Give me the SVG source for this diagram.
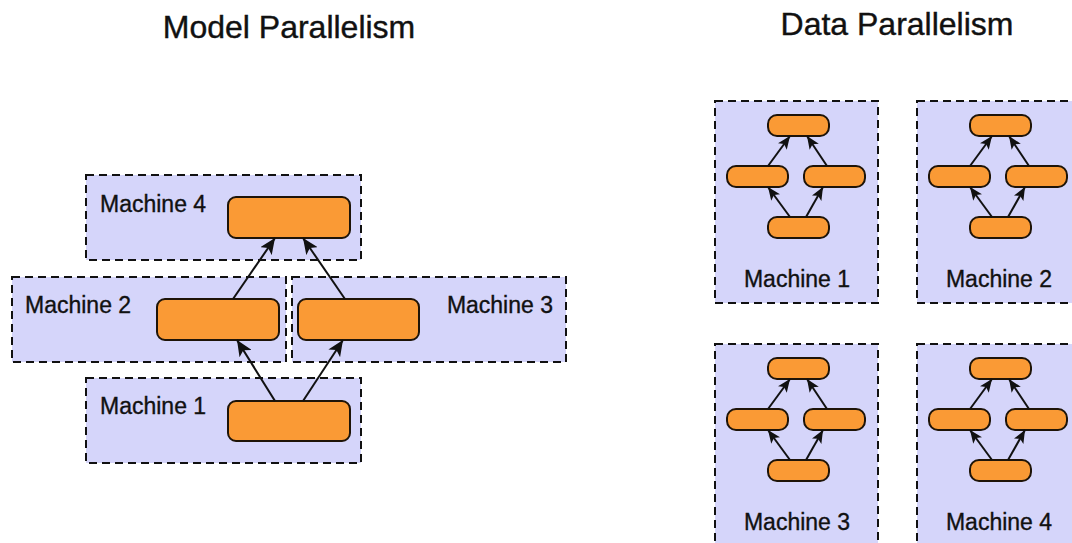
<svg xmlns="http://www.w3.org/2000/svg" width="1072" height="543" viewBox="0 0 1072 543">
<defs>
<style>
.title{font-family:"Liberation Sans",Arial,sans-serif;font-size:32px;fill:#111;stroke:#111;stroke-width:0.4;}
.lbl{font-family:"Liberation Sans",Arial,sans-serif;font-size:23px;fill:#111;stroke:#111;stroke-width:0.35;}
.box{fill:#d5d5fa;stroke:#111;stroke-width:2;stroke-dasharray:8,5;}
.node{fill:#fa9a35;stroke:#1e1408;stroke-width:2;}
.big{stroke:#111;stroke-width:2;fill:none;marker-end:url(#ahBig);}
.small{stroke:#111;stroke-width:2;fill:none;marker-end:url(#ahSmall);}
</style>
<marker id="ahBig" viewBox="0 0 16 14" refX="16" refY="7" markerWidth="16" markerHeight="14" markerUnits="userSpaceOnUse" orient="auto">
<path d="M0,0 L16,7 L0,14 L4,7 z" fill="#111"/>
</marker>
<marker id="ahSmall" viewBox="0 0 13 11" refX="13" refY="5.5" markerWidth="13" markerHeight="11" markerUnits="userSpaceOnUse" orient="auto">
<path d="M0,0 L13,5.5 L0,11 L3,5.5 z" fill="#111"/>
</marker>
</defs>
<rect width="1072" height="543" fill="#ffffff"/>
<text class="title" x="289" y="38" text-anchor="middle">Model Parallelism</text>
<text class="title" x="897" y="35" text-anchor="middle">Data Parallelism</text>

<g id="mp-machine4">
<rect class="box" x="86" y="175" width="275" height="85"/>
<text class="lbl" x="100" y="212">Machine 4</text>
<rect class="node" x="228" y="197" width="122" height="41" rx="8"/>
</g>
<g id="mp-machine2">
<rect class="box" x="12" y="277" width="274" height="85"/>
<text class="lbl" x="25" y="313">Machine 2</text>
<rect class="node" x="157" y="299" width="122" height="41" rx="8"/>
</g>
<g id="mp-machine3">
<rect class="box" x="292" y="277" width="274" height="85"/>
<text class="lbl" x="553" y="313" text-anchor="end">Machine 3</text>
<rect class="node" x="298" y="299" width="121" height="41" rx="8"/>
</g>
<g id="mp-machine1">
<rect class="box" x="86" y="378" width="275" height="85"/>
<text class="lbl" x="100" y="414">Machine 1</text>
<rect class="node" x="228" y="401" width="122" height="40" rx="8"/>
</g>

<g id="dp-machine1" transform="translate(715,101)">
<rect class="box" x="0" y="0" width="163" height="202"/>
<rect class="node" x="53" y="14" width="61" height="21" rx="9"/>
<rect class="node" x="12" y="65" width="61" height="21" rx="9"/>
<rect class="node" x="89" y="65" width="61" height="21" rx="9"/>
<rect class="node" x="53" y="116" width="61" height="21" rx="9"/>
<text class="lbl" x="82" y="186" text-anchor="middle">Machine 1</text>
</g>
<g id="dp-machine2" transform="translate(917,101)">
<rect class="box" x="0" y="0" width="163" height="202"/>
<rect class="node" x="53" y="14" width="61" height="21" rx="9"/>
<rect class="node" x="12" y="65" width="61" height="21" rx="9"/>
<rect class="node" x="89" y="65" width="61" height="21" rx="9"/>
<rect class="node" x="53" y="116" width="61" height="21" rx="9"/>
<text class="lbl" x="82" y="186" text-anchor="middle">Machine 2</text>
</g>
<g id="dp-machine3" transform="translate(715,344)">
<rect class="box" x="0" y="0" width="163" height="202"/>
<rect class="node" x="53" y="14" width="61" height="21" rx="9"/>
<rect class="node" x="12" y="65" width="61" height="21" rx="9"/>
<rect class="node" x="89" y="65" width="61" height="21" rx="9"/>
<rect class="node" x="53" y="116" width="61" height="21" rx="9"/>
<text class="lbl" x="82" y="186" text-anchor="middle">Machine 3</text>
</g>
<g id="dp-machine4" transform="translate(917,344)">
<rect class="box" x="0" y="0" width="163" height="202"/>
<rect class="node" x="53" y="14" width="61" height="21" rx="9"/>
<rect class="node" x="12" y="65" width="61" height="21" rx="9"/>
<rect class="node" x="89" y="65" width="61" height="21" rx="9"/>
<rect class="node" x="53" y="116" width="61" height="21" rx="9"/>
<text class="lbl" x="82" y="186" text-anchor="middle">Machine 4</text>
</g>

<g id="connectors">
<line class="big" x1="275" y1="401" x2="237" y2="340"/>
<line class="big" x1="303" y1="401" x2="343" y2="340"/>
<line class="big" x1="233" y1="299" x2="275" y2="238"/>
<line class="big" x1="345" y1="299" x2="303" y2="238"/>

<line class="small" x1="768" y1="166" x2="790" y2="136"/>
<line class="small" x1="827" y1="166" x2="807" y2="136"/>
<line class="small" x1="790" y1="217" x2="768" y2="187"/>
<line class="small" x1="806" y1="217" x2="823" y2="187"/>

<line class="small" x1="970" y1="166" x2="992" y2="136"/>
<line class="small" x1="1029" y1="166" x2="1009" y2="136"/>
<line class="small" x1="992" y1="217" x2="970" y2="187"/>
<line class="small" x1="1008" y1="217" x2="1025" y2="187"/>

<line class="small" x1="768" y1="409" x2="790" y2="379"/>
<line class="small" x1="827" y1="409" x2="807" y2="379"/>
<line class="small" x1="790" y1="460" x2="768" y2="430"/>
<line class="small" x1="806" y1="460" x2="823" y2="430"/>

<line class="small" x1="970" y1="409" x2="992" y2="379"/>
<line class="small" x1="1029" y1="409" x2="1009" y2="379"/>
<line class="small" x1="992" y1="460" x2="970" y2="430"/>
<line class="small" x1="1008" y1="460" x2="1025" y2="430"/>
</g>
</svg>
